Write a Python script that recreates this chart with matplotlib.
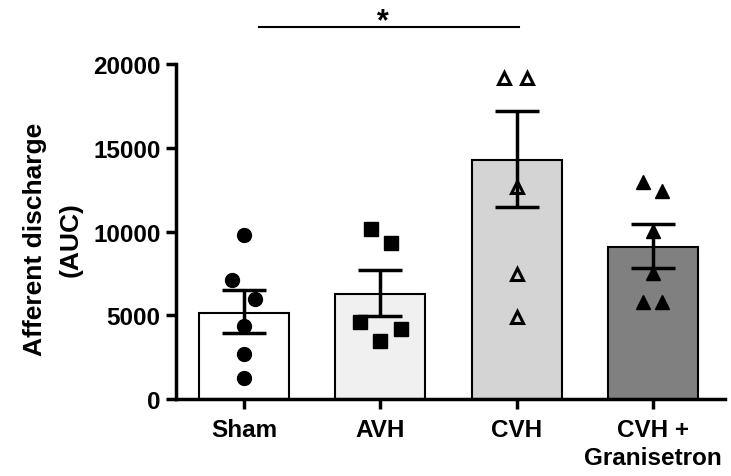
import matplotlib
matplotlib.use("Agg")
from matplotlib import pyplot as plt

plt.rcParams['font.family'] = ['Liberation Sans', 'DejaVu Sans']
plt.rcParams['font.weight'] = 'bold'

# data
groups = ["Sham", "AVH", "CVH", "CVH +\nGranisetron"]
means = [5150, 6270, 14270, 9070]
err_hi = [6500, 7700, 17200, 10450]
err_lo = [3940, 4950, 11460, 7820]
bar_colors = ["#ffffff", "#f0f0f0", "#d4d4d4", "#808080"]

sham_x = [0.0, -0.09, 0.08, 0.0, 0.0, 0.0]
sham_y = [9800, 7100, 5970, 4360, 2690, 1250]
avh_x = [-0.07, 0.08, -0.15, 0.15, 0.0]
avh_y = [10150, 9310, 4600, 4180, 3460]
cvh_x = [-0.09, 0.08, 0.0, 0.0, 0.0]
cvh_y = [19160, 19160, 12650, 7460, 4900]
gran_x = [-0.07, 0.07, 0.0, 0.0, -0.07, 0.07]
gran_y = [12950, 12420, 10030, 7520, 5790, 5790]

fig = plt.figure(figsize=(7.31, 4.77), dpi=100)
ax = fig.add_axes([0.2408, 0.1614, 0.751, 0.7023])

xs = range(len(groups))
ax.bar(xs, means, width=0.66, color=bar_colors, edgecolor="black", linewidth=1.5, zorder=1)

for i in xs:
	ax.errorbar(i, means[i], yerr=[[means[i] - err_lo[i]], [err_hi[i] - means[i]]],
		fmt="none", ecolor="black", elinewidth=2.5, capsize=16, capthick=2.5, zorder=3)

ax.plot([0 + d for d in sham_x], sham_y, "o", color="black", markersize=10, zorder=4)
ax.plot([1 + d for d in avh_x], avh_y, "s", color="black", markersize=9.5, zorder=4)
ax.plot([2 + d for d in cvh_x], cvh_y, "^", markerfacecolor="none", markeredgecolor="black",
	markeredgewidth=2.2, markersize=9, zorder=4)
ax.plot([3 + d for d in gran_x], gran_y, "^", color="black", markersize=10, zorder=4)

# significance bar Sham vs CVH
ax.plot([0.11, 2.02], [22210, 22210], color="black", linewidth=1.5, clip_on=False)
ax.text(1.02, 22550, "*", ha="center", va="center", fontsize=22, fontweight="bold")

ax.set_xlim(-0.5, 3.53)
ax.set_ylim(0, 20000)
ax.set_yticks([0, 5000, 10000, 15000, 20000])
ax.set_xticks(list(xs))
ax.set_xticklabels(groups, fontsize=17.5, fontweight="bold", linespacing=1.28)
ax.tick_params(axis="y", labelsize=17.5, width=2.5, length=7, pad=4)
ax.tick_params(axis="x", width=2.5, length=7, pad=7)
for lab in ax.get_yticklabels():
	lab.set_fontweight("bold")

ax.set_ylabel("Afferent discharge\n(AUC)", fontsize=19, fontweight="bold", linespacing=1.6)
ax.yaxis.set_label_coords(-0.171, 0.48)

ax.spines["top"].set_visible(False)
ax.spines["right"].set_visible(False)
ax.spines["left"].set_linewidth(2.5)
ax.spines["bottom"].set_linewidth(2.5)

plt.savefig("out.png", dpi=100)
